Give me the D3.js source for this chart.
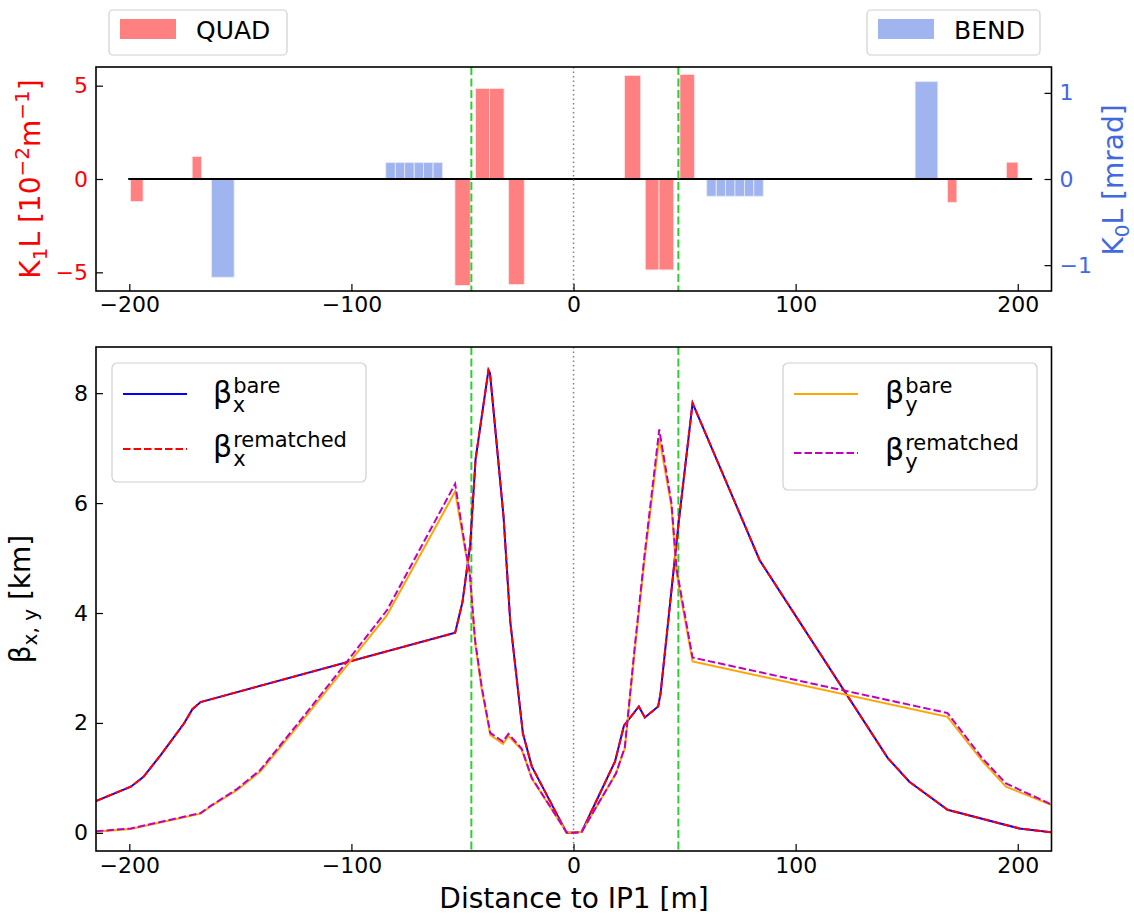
<!DOCTYPE html>
<html>
<head>
<meta charset="utf-8">
<script src="https://cdn.jsdelivr.net/npm/d3@7"></script>
<style>
  body { margin: 0; background: #fff; }
  text { font-family: "DejaVu Sans", sans-serif; }
</style>
</head>
<body>
<svg id="chart" width="1134" height="918"></svg>
<script>
// --- magnets (top panel) : centre [m], length [m], strength
const quadS   = [-196.6, -169.6, -49.95, -40.95, -34.55, -25.7, 26.6, 35.4, 41.8, 51.15, 170.5, 197.5];
const quadL   = [5.6, 4.2, 6.9, 6.3, 6.5, 7.0, 7.2, 6.2, 6.6, 6.5, 4.2, 5.2];
const quadK1L = [-1.2, 1.2, -5.7, 4.85, 4.85, -5.65, 5.55, -4.87, -4.87, 5.6, -1.25, 0.9];   // 1e-2 m^-1

const bendS   = [-157.9, -82.4, -78.1, -73.9, -69.6, -65.4, -61.1, 62.1, 66.4, 70.6, 74.8, 79.1, 83.3, 158.9];
const bendL   = [10.2, 4.25, 4.25, 4.25, 4.25, 4.25, 4.25, 4.23, 4.23, 4.23, 4.23, 4.23, 4.23, 10.2];
const bendK0L = [-1.14, 0.19, 0.19, 0.19, 0.19, 0.19, 0.19, -0.2, -0.2, -0.2, -0.2, -0.2, -0.2, 1.13];  // mrad

// --- optics (bottom panel) : beta [km]
const sX = [-215, -199.3, -193.6, -185.8, -175.4, -171.6, -167.9, -53.3, -50, -46.5, -44.1, -38.3, -37.6,
            -31.5, -28.5, -22.8, -18.8, -3.1, 0, 3.7, 18.7, 22.7, 29.4, 32.1, 38.1, 39.2, 47.2, 53.6,
            83.8, 141.5, 151.2, 168.4, 200.7, 215];
const betxBare = [0.58, 0.84, 1.02, 1.42, 1.99, 2.25, 2.38, 3.64, 4.2, 5.25, 6.8, 8.42, 8.36,
                  5.75, 3.85, 1.81, 1.21, 0.0, 0.0, 0.02, 1.3, 1.95, 2.3, 2.1, 2.3, 2.54, 5.6, 7.82,
                  4.96, 1.36, 0.93, 0.42, 0.08, 0.01];
const betxRem  = [0.58, 0.84, 1.02, 1.42, 1.99, 2.25, 2.38, 3.64, 4.2, 5.25, 6.8, 8.42, 8.36,
                  5.75, 3.85, 1.81, 1.21, 0.0, 0.0, 0.02, 1.3, 1.95, 2.3, 2.1, 2.3, 2.54, 5.6, 7.82,
                  4.96, 1.36, 0.93, 0.42, 0.08, 0.01];

const sY = [-215, -199.3, -167.9, -163.4, -151.4, -140.9, -119.9, -101.9, -84, -53.3, -48.8, -46.8, -44.3,
            -41.3, -37.5, -31.8, -29.3, -23.3, -18.8, -3.1, 0, 3.7, 19.1, 23.1, 27.6, 32.1, 38.6, 44.1,
            46.4, 53.6, 168.4, 184.2, 194.7, 215];
const betyBare = [0.02, 0.07, 0.35, 0.48, 0.78, 1.12, 2.15, 3.05, 3.96, 6.21, 5.15, 4.72, 3.45,
                  2.6, 1.78, 1.62, 1.76, 1.51, 0.99, 0.01, 0.0, 0.02, 1.08, 1.54, 3.33, 5.02, 7.19, 5.93,
                  4.72, 3.12, 2.11, 1.30, 0.84, 0.51];
const betyRem  = [0.03, 0.08, 0.36, 0.49, 0.8, 1.15, 2.2, 3.12, 4.05, 6.35, 5.2, 4.76, 3.5,
                  2.65, 1.82, 1.66, 1.8, 1.53, 1.0, 0.01, 0.0, 0.02, 1.08, 1.56, 3.4, 5.1, 7.34, 6.0,
                  4.8, 3.19, 2.18, 1.35, 0.9, 0.52];

const ipMarks = [-46, 47.2];   // green dashed
const xTicks = [-200, -100, 0, 100, 200];
const k1Ticks = [-5, 0, 5];
const k0Ticks = [-1, 0, 1];
const betaTicks = [0, 2, 4, 6, 8];

const QUAD_C = '#ff8080', BEND_C = '#a0b4f0';
const svg = d3.select('#chart');
svg.append('rect').attr('width', 1134).attr('height', 918).attr('fill', '#fff');

const x = d3.scaleLinear().domain([-215, 215.2]).range([96, 1051.5]);
const T = { top: 67, bottom: 291 }, B = { top: 347, bottom: 851 };
const yK1 = d3.scaleLinear().domain([-6, 6]).range([T.bottom, T.top]);
const yK0 = d3.scaleLinear().domain([-1.3, 1.3]).range([T.bottom, T.top]);
const yB = d3.scaleLinear().domain([-0.33, 8.84]).range([B.bottom, B.top]);
const fmt = d3.format('d');

const defs = svg.append('defs');
[['clipT', T], ['clipB', B]].forEach(([id, p]) => {
  defs.append('clipPath').attr('id', id).append('rect')
    .attr('x', 96).attr('y', p.top).attr('width', 1051.5 - 96).attr('height', p.bottom - p.top);
});

function styleAxis(g, color) {
  g.select('.domain').remove();
  g.selectAll('line').attr('stroke', '#000').attr('stroke-width', 1.2);
  g.selectAll('text').attr('fill', color || '#000').style('font-size', '22px')
    .style('font-family', '"DejaVu Sans", sans-serif');
}

// ---------- top panel ----------
const gT = svg.append('g').attr('clip-path', 'url(#clipT)');
gT.selectAll('.quad').data(quadS).enter().append('rect')
  .attr('x', (s, i) => x(s - quadL[i] / 2))
  .attr('width', (s, i) => x(s + quadL[i] / 2) - x(s - quadL[i] / 2))
  .attr('y', (s, i) => Math.min(yK1(quadK1L[i]), yK1(0)))
  .attr('height', (s, i) => Math.abs(yK1(quadK1L[i]) - yK1(0)))
  .attr('fill', QUAD_C).attr('stroke', '#ffe4e4').attr('stroke-width', 0.8);
gT.selectAll('.bend').data(bendS).enter().append('rect')
  .attr('x', (s, i) => x(s - bendL[i] / 2))
  .attr('width', (s, i) => x(s + bendL[i] / 2) - x(s - bendL[i] / 2))
  .attr('y', (s, i) => Math.min(yK0(bendK0L[i]), yK0(0)))
  .attr('height', (s, i) => Math.abs(yK0(bendK0L[i]) - yK0(0)))
  .attr('fill', BEND_C).attr('stroke', '#e4eafb').attr('stroke-width', 0.8);
gT.append('line').attr('x1', x(-200.5)).attr('x2', x(206.5)).attr('y1', yK1(0)).attr('y2', yK1(0))
  .attr('stroke', '#000').attr('stroke-width', 1.8);

function guides(g, p) {
  g.append('line').attr('x1', x(0)).attr('x2', x(0)).attr('y1', p.top).attr('y2', p.bottom)
    .attr('stroke', '#808080').attr('stroke-width', 1.5).attr('stroke-dasharray', '1.5,3');
  ipMarks.forEach(s => g.append('line').attr('x1', x(s)).attr('x2', x(s)).attr('y1', p.top).attr('y2', p.bottom)
    .attr('stroke', '#32cd32').attr('stroke-width', 2).attr('stroke-dasharray', '8,3.5'));
}
guides(gT, T);

svg.append('g').attr('transform', `translate(0,${T.bottom})`)
  .call(d3.axisBottom(x).tickValues(xTicks).tickFormat(fmt).tickSizeInner(-7).tickSizeOuter(0).tickPadding(5))
  .call(g => styleAxis(g));
svg.append('g').attr('transform', 'translate(96,0)')
  .call(d3.axisLeft(yK1).tickValues(k1Ticks).tickFormat(fmt).tickSizeInner(-7).tickSizeOuter(0).tickPadding(8))
  .call(g => styleAxis(g, '#ff0000'));
svg.append('g').attr('transform', 'translate(1051.5,0)')
  .call(d3.axisRight(yK0).tickValues(k0Ticks).tickFormat(fmt).tickSizeInner(-7).tickSizeOuter(0).tickPadding(8))
  .call(g => styleAxis(g, '#4169e1'));
svg.append('rect').attr('x', 96).attr('y', T.top).attr('width', 1051.5 - 96).attr('height', T.bottom - T.top)
  .attr('fill', 'none').attr('stroke', '#000').attr('stroke-width', 1.6);

// top y labels
const lblT = svg.append('text').attr('transform', 'translate(40,179) rotate(-90)')
  .attr('text-anchor', 'middle').attr('fill', '#ff0000').style('font-size', '28px');
lblT.append('tspan').text('K');
lblT.append('tspan').attr('dy', 7).style('font-size', '20px').text('1');
lblT.append('tspan').attr('dy', -7).text('L [10');
lblT.append('tspan').attr('dy', -11).style('font-size', '20px').text('−2');
lblT.append('tspan').attr('dy', 11).text('m');
lblT.append('tspan').attr('dy', -11).style('font-size', '20px').text('−1');
lblT.append('tspan').attr('dy', 11).text(']');

const lblR = svg.append('text').attr('transform', 'translate(1123,180) rotate(-90)')
  .attr('text-anchor', 'middle').attr('fill', '#4169e1').style('font-size', '28px');
lblR.append('tspan').text('K');
lblR.append('tspan').attr('dy', 6).style('font-size', '20px').text('0');
lblR.append('tspan').attr('dy', -6).text('L [mrad]');

// top legends
function patchLegend(bx, bw, color, label) {
  svg.append('rect').attr('x', bx).attr('y', 10).attr('width', bw).attr('height', 45).attr('rx', 4)
    .attr('fill', '#fff').attr('stroke', '#d0d0d0').attr('stroke-width', 1.2);
  svg.append('rect').attr('x', bx + 11).attr('y', 19).attr('width', 56).attr('height', 20).attr('fill', color);
  svg.append('text').attr('x', bx + 87).attr('y', 39).style('font-size', '25px').text(label);
}
patchLegend(109, 178, QUAD_C, 'QUAD');
patchLegend(867, 173, BEND_C, 'BEND');

// ---------- bottom panel ----------
const gB = svg.append('g').attr('clip-path', 'url(#clipB)');
guides(gB, B);
const line = (sArr) => d3.line().x((d, i) => x(sArr[i])).y(d => yB(d));
const curves = [
  { s: sX, v: betxBare, c: '#0000ff', dash: null },
  { s: sX, v: betxRem, c: '#ff0000', dash: '7.5,3' },
  { s: sY, v: betyBare, c: '#ffa500', dash: null },
  { s: sY, v: betyRem, c: '#bf00bf', dash: '7.5,3' }
];
curves.forEach(cv => {
  gB.append('path').datum(cv.v).attr('d', line(cv.s)).attr('fill', 'none')
    .attr('stroke', cv.c).attr('stroke-width', 2).attr('stroke-dasharray', cv.dash);
});

svg.append('g').attr('transform', `translate(0,${B.bottom})`)
  .call(d3.axisBottom(x).tickValues(xTicks).tickFormat(fmt).tickSizeInner(-7).tickSizeOuter(0).tickPadding(6))
  .call(g => styleAxis(g));
svg.append('g').attr('transform', 'translate(96,0)')
  .call(d3.axisLeft(yB).tickValues(betaTicks).tickFormat(fmt).tickSizeInner(-7).tickSizeOuter(0).tickPadding(8))
  .call(g => styleAxis(g));
svg.append('rect').attr('x', 96).attr('y', B.top).attr('width', 1051.5 - 96).attr('height', B.bottom - B.top)
  .attr('fill', 'none').attr('stroke', '#000').attr('stroke-width', 1.6);

svg.append('text').attr('x', 574).attr('y', 908).attr('text-anchor', 'middle')
  .style('font-size', '28px').text('Distance to IP1 [m]');
const lblB = svg.append('text').attr('transform', 'translate(30,599) rotate(-90)')
  .attr('text-anchor', 'middle').style('font-size', '28px');
lblB.append('tspan').text('β');
lblB.append('tspan').attr('dy', 7).style('font-size', '20px').text('x, y');
lblB.append('tspan').attr('dy', -7).text(' [km]');

// bottom legends: beta with stacked super/subscript in one text element
function betaEntry(lx, ly, tx, ty, color, dash, sub, sup) {
  svg.append('line').attr('x1', lx).attr('x2', lx + 64).attr('y1', ly).attr('y2', ly)
    .attr('stroke', color).attr('stroke-width', 2).attr('stroke-dasharray', dash);
  const t = svg.append('text').attr('x', tx).attr('y', ty).style('font-size', '30px');
  t.append('tspan').text('β');
  const up = t.append('tspan').attr('dx', 1).attr('dy', -10.5).style('font-size', '21px').text(sup);
  const supW = up.node().getComputedTextLength();
  t.append('tspan').attr('dx', -supW).attr('dy', 19.2).style('font-size', '21px').text(sub);
}
function legendBox(bx, by, bw, bh) {
  svg.append('rect').attr('x', bx).attr('y', by).attr('width', bw).attr('height', bh).attr('rx', 5)
    .attr('fill', '#fff').attr('fill-opacity', 0.8).attr('stroke', '#d0d0d0').attr('stroke-width', 1.2);
}
legendBox(112, 363, 254, 119);
betaEntry(123, 394, 213, 403, '#0000ff', null, 'x', 'bare');
betaEntry(123, 449, 213, 457, '#ff0000', '7.5,3', 'x', 'rematched');
legendBox(783, 363, 254, 127);
betaEntry(794, 394, 885, 403, '#ffa500', null, 'y', 'bare');
betaEntry(794, 453, 885, 460, '#bf00bf', '7.5,3', 'y', 'rematched');
</script>
</body>
</html>
